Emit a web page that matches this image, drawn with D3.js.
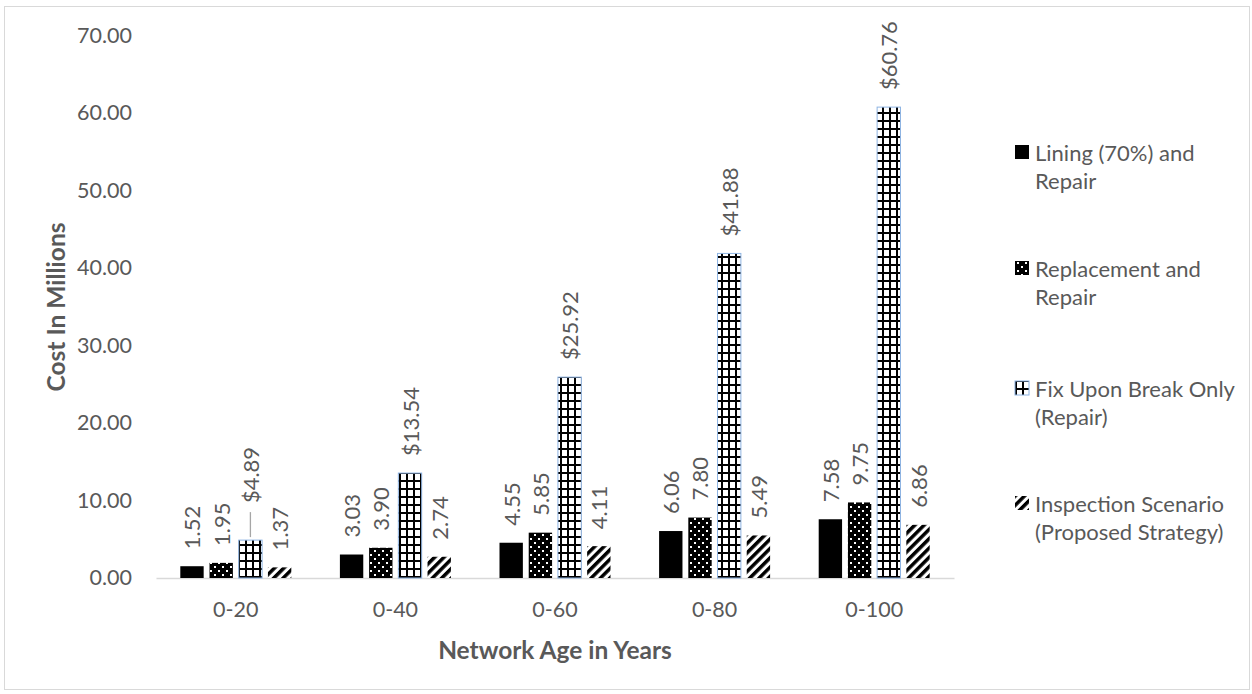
<!DOCTYPE html>
<html>
<head>
<meta charset="utf-8">
<script src="https://cdn.jsdelivr.net/npm/d3@7/dist/d3.min.js"></script>
<style>
  html, body { margin: 0; padding: 0; background: #ffffff; }
  svg { display: block; font-family: Lato, "Open Sans", sans-serif; }
</style>
</head>
<body>
<svg id="chart" width="1252" height="694"></svg>
<script>
// Cost of network maintenance strategies by network age (millions)
const categories = ["0-20", "0-40", "0-60", "0-80", "0-100"];
const seriesNames = [
  "Lining (70%) and Repair",
  "Replacement and Repair",
  "Fix Upon Break Only (Repair)",
  "Inspection Scenario (Proposed Strategy)"
];
const legendLines = [
  ["Lining (70%) and", "Repair"],
  ["Replacement and", "Repair"],
  ["Fix Upon Break Only", "(Repair)"],
  ["Inspection Scenario", "(Proposed Strategy)"]
];
const lining      = [1.52, 3.03, 4.55, 6.06, 7.58];
const replacement = [1.95, 3.90, 5.85, 7.80, 9.75];
const fixOnBreak  = [4.89, 13.54, 25.92, 41.88, 60.76];
const inspection  = [1.37, 2.74, 4.11, 5.49, 6.86];
const yTicks = [0, 10, 20, 30, 40, 50, 60, 70];

const seriesValues = [lining, replacement, fixOnBreak, inspection];
const labelPrefix = ["", "", "$", ""];

const svg = d3.select("#chart");
const textColor = "#595959";
const margin = { left: 156, right: 298, top: 35.5, bottom: 116 };
const W = 1252, H = 694;

// chart area frame
svg.append("rect")
  .attr("x", 4.5).attr("y", 6.5)
  .attr("width", 1245).attr("height", 683)
  .attr("fill", "#ffffff").attr("stroke", "#d9d9d9").attr("stroke-width", 1);

// fill patterns
const defs = svg.append("defs");

const dots = defs.append("pattern")
  .attr("id", "pat-dots").attr("patternUnits", "userSpaceOnUse")
  .attr("width", 8).attr("height", 8);
dots.append("rect").attr("width", 8).attr("height", 8).attr("fill", "#000");
dots.append("rect").attr("x", 2).attr("y", 2).attr("width", 2).attr("height", 2).attr("fill", "#fff");
dots.append("rect").attr("x", 6).attr("y", 6).attr("width", 2).attr("height", 2).attr("fill", "#fff");

const grid = defs.append("pattern")
  .attr("id", "pat-grid").attr("patternUnits", "userSpaceOnUse")
  .attr("width", 7).attr("height", 8);
grid.append("rect").attr("width", 7).attr("height", 8).attr("fill", "#fff");
grid.append("rect").attr("x", 0).attr("y", 0).attr("width", 2).attr("height", 8).attr("fill", "#000");
grid.append("rect").attr("x", 0).attr("y", 0).attr("width", 7).attr("height", 2).attr("fill", "#000");

const diag = defs.append("pattern")
  .attr("id", "pat-diag").attr("patternUnits", "userSpaceOnUse")
  .attr("width", 6.6).attr("height", 10)
  .attr("patternTransform", "rotate(45)");
diag.append("rect").attr("width", 6.6).attr("height", 10).attr("fill", "#fff");
diag.append("rect").attr("x", 0).attr("width", 3.5).attr("height", 10).attr("fill", "#000");

const fills = ["#000000", "url(#pat-dots)", "url(#pat-grid)", "url(#pat-diag)"];
const strokes = ["none", "none", "#8eb4e3", "none"];

// scales
const x0 = d3.scaleBand().domain(categories)
  .range([margin.left, W - margin.right]).padding(0);
const groupWidth = 111;
const x1 = d3.scaleBand().domain(d3.range(seriesNames.length))
  .range([0, groupWidth]).paddingInner(0.2);
const y = d3.scaleLinear().domain([0, 70]).range([578, margin.top]);

// y axis labels (no axis line, no gridlines)
const yAxis = d3.axisLeft(y).tickValues(yTicks).tickFormat(d3.format(".2f")).tickSize(0).tickPadding(0);
const gy = svg.append("g").attr("transform", "translate(132,0)").call(yAxis);
gy.select(".domain").remove();
gy.selectAll("text").attr("fill", textColor).style("font-size", "21.5px").style("font-family", "Lato");

// x axis
const xAxis = d3.axisBottom(x0).tickSize(0).tickPadding(0);
const gx = svg.append("g").attr("transform", "translate(0,578)").call(xAxis);
gx.select(".domain").attr("stroke", "#d9d9d9").attr("stroke-width", 1.3);
gx.selectAll("text").attr("fill", textColor).style("font-size", "21.5px")
  .style("font-family", "Lato").attr("dy", null).attr("y", 39);

// bars
const groupOffset = (x0.bandwidth() - groupWidth) / 2;
const rows = [];
categories.forEach((c, i) => {
  seriesValues.forEach((vals, s) => rows.push({ cat: c, s: s, v: vals[i] }));
});

const gBars = svg.append("g");
gBars.selectAll("rect").data(rows).join("rect")
  .attr("x", d => x0(d.cat) + groupOffset + x1(d.s))
  .attr("y", d => y(d.v))
  .attr("width", x1.bandwidth())
  .attr("height", d => y(0) - y(d.v))
  .attr("fill", d => fills[d.s])
  .attr("stroke", d => strokes[d.s])
  .attr("stroke-width", 1);

// data labels, rotated, above each bar
const labelGap = 17;
const liftedLabel = { cat: "0-20", s: 2, lift: 20 };
const gLabels = svg.append("g");
rows.forEach(d => {
  const cx = x0(d.cat) + groupOffset + x1(d.s) + x1.bandwidth() / 2;
  const lift = (d.cat === liftedLabel.cat && d.s === liftedLabel.s) ? liftedLabel.lift : 0;
  const ly = y(d.v) - labelGap - lift;
  if (lift > 0) {
    gLabels.append("line")
      .attr("x1", cx).attr("x2", cx)
      .attr("y1", ly + 9).attr("y2", y(d.v) - 3)
      .attr("stroke", "#a6a6a6").attr("stroke-width", 1.3);
  }
  gLabels.append("text")
    .attr("transform", `translate(${cx},${ly}) rotate(-90)`)
    .attr("text-anchor", "start")
    .attr("dominant-baseline", "central")
    .attr("fill", textColor)
    .style("font-size", "22px")
    .text(labelPrefix[d.s] + d3.format(".2f")(d.v));
});

// axis titles
svg.append("text")
  .attr("transform", "translate(55,307) rotate(-90)")
  .attr("text-anchor", "middle").attr("dominant-baseline", "central")
  .attr("fill", textColor).style("font-size", "24.5px").style("font-weight", "bold")
  .text("Cost In Millions");
svg.append("text")
  .attr("x", 555).attr("y", 649)
  .attr("text-anchor", "middle").attr("dominant-baseline", "central")
  .attr("fill", textColor).style("font-size", "24.5px").style("font-weight", "bold")
  .text("Network Age in Years");

// legend
const legendY = [152, 268, 388, 503];
const gLegend = svg.append("g");
seriesNames.forEach((name, s) => {
  const g = gLegend.append("g").attr("transform", `translate(1015,${legendY[s]})`);
  g.append("rect")
    .attr("x", 0).attr("y", -7).attr("width", 14).attr("height", 14)
    .attr("fill", fills[s]).attr("stroke", strokes[s]).attr("stroke-width", 1);
  legendLines[s].forEach((line, k) => {
    g.append("text")
      .attr("x", 20).attr("y", k * 28.5)
      .attr("dominant-baseline", "central")
      .attr("fill", textColor).style("font-size", "22px")
      .text(line);
  });
});
</script>
</body>
</html>
